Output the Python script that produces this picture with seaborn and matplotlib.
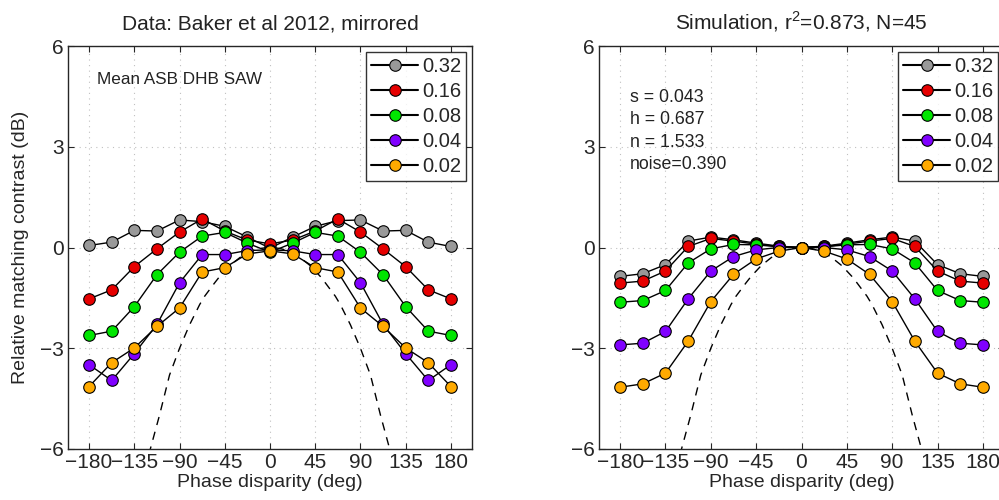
import numpy as np
import pandas as pd
import matplotlib
matplotlib.use('Agg')
import matplotlib.pyplot as plt
from matplotlib.lines import Line2D
import seaborn as sns

sns.set_style('ticks')
plt.rcParams['font.family'] = ['Liberation Sans', 'DejaVu Sans']
plt.rcParams['mathtext.fontset'] = 'custom'
plt.rcParams['mathtext.rm'] = 'Liberation Sans'

# phase disparities (deg)
phase = [-180, -157.5, -135, -112.5, -90, -67.5, -45, -22.5, 0,
         22.5, 45, 67.5, 90, 112.5, 135, 157.5, 180]

contrasts = ['0.32', '0.16', '0.08', '0.04', '0.02']
colors = ['#999999', '#e60000', '#00e600', '#8000ff', '#ffaa00']

# data (Baker et al 2012, mirrored)
data_032 = [0.06, 0.16, 0.51, 0.49, 0.82, 0.77, 0.63, 0.31, -0.02,
            0.31, 0.63, 0.80, 0.82, 0.49, 0.51, 0.16, 0.03]
data_016 = [-1.53, -1.26, -0.57, -0.04, 0.46, 0.85, 0.49, 0.22, 0.11,
            0.22, 0.49, 0.85, 0.46, -0.04, -0.57, -1.26, -1.53]
data_008 = [-2.62, -2.49, -1.76, -0.81, -0.14, 0.34, 0.45, 0.13, -0.14,
            0.13, 0.45, 0.34, -0.14, -0.81, -1.76, -2.49, -2.62]
data_004 = [-3.49, -3.96, -3.16, -2.29, -1.05, -0.21, -0.21, -0.09, -0.07,
            -0.10, -0.21, -0.21, -1.05, -2.29, -3.16, -3.96, -3.49]
data_002 = [-4.14, -3.43, -2.99, -2.35, -1.80, -0.73, -0.60, -0.19, -0.10,
            -0.19, -0.60, -0.73, -1.80, -2.35, -2.99, -3.43, -4.14]

# simulation
sim_032 = [-0.86, -0.78, -0.51, 0.19, 0.31, 0.23, 0.13, 0.04, 0.0,
           0.04, 0.13, 0.23, 0.31, 0.19, -0.51, -0.78, -0.86]
sim_016 = [-1.06, -1.00, -0.70, 0.03, 0.27, 0.19, 0.10, 0.03, 0.0,
           0.03, 0.10, 0.19, 0.27, 0.03, -0.70, -1.00, -1.06]
sim_008 = [-1.63, -1.58, -1.28, -0.46, -0.04, 0.09, 0.08, 0.02, 0.0,
           0.02, 0.08, 0.09, -0.04, -0.46, -1.28, -1.58, -1.63]
sim_004 = [-2.90, -2.85, -2.50, -1.53, -0.70, -0.27, -0.07, 0.0, 0.0,
           0.0, -0.07, -0.27, -0.70, -1.53, -2.50, -2.85, -2.90]
sim_002 = [-4.16, -4.06, -3.74, -2.79, -1.61, -0.80, -0.34, -0.11, 0.0,
           -0.11, -0.34, -0.80, -1.61, -2.79, -3.74, -4.06, -4.16]

# dashed reference curve
ref_x = [-130, -125, -120, -115, -110, -105, -100, -95, -90, -85, -80, -75, -70,
         -65, -60, -55, -50, -45, -40, -35, -30, -25, -20, -15, -10, -5, 0,
         5, 10, 15, 20, 25, 30, 35, 40, 45, 50, 55, 60, 65, 70,
         75, 80, 85, 90, 95, 100, 105, 110, 115, 120, 125, 130]
ref_y = [-7.5, -6.8, -6.1, -5.55, -5.0, -4.4, -3.8, -3.4, -3.0, -2.65, -2.3, -2.0, -1.7,
         -1.45, -1.25, -1.05, -0.86, -0.7, -0.54, -0.42, -0.3, -0.2, -0.13, -0.07, -0.03, -0.01, 0.0,
         -0.01, -0.03, -0.07, -0.13, -0.2, -0.3, -0.42, -0.54, -0.7, -0.86, -1.05, -1.25, -1.45, -1.7,
         -2.0, -2.3, -2.65, -3.0, -3.4, -3.8, -4.4, -5.0, -5.55, -6.1, -6.8, -7.5]

data_sets = [data_032, data_016, data_008, data_004, data_002]
sim_sets = [sim_032, sim_016, sim_008, sim_004, sim_002]

fig = plt.figure(figsize=(9.99, 5.0), dpi=100)
ax1 = fig.add_axes([68 / 999, 1 - 449 / 500, 404 / 999, 403 / 500])
ax2 = fig.add_axes([599 / 999, 1 - 449 / 500, 405 / 999, 403 / 500])


def draw_panel(ax, sets, title):
    ax.plot(ref_x, ref_y, color='black', linestyle=(0, (6, 5)), linewidth=1.0, zorder=1)
    for vals, c in zip(sets, colors):
        df = pd.DataFrame({'phase': phase, 'val': vals})
        sns.lineplot(data=df, x='phase', y='val', ax=ax, color='black', linewidth=1.0,
                     marker='o', markersize=8.3, markerfacecolor=c,
                     markeredgecolor='black', markeredgewidth=0.8, zorder=3)
    ax.set_xlim(-201, 201)
    ax.set_ylim(-6, 6)
    ax.set_xticks([-180, -135, -90, -45, 0, 45, 90, 135, 180])
    ax.set_xticklabels(['\u2212180', '\u2212135', '\u221290', '\u221245', '0',
                        '45', '90', '135', '180'])
    ax.set_yticks([-6, -3, 0, 3, 6])
    ax.set_yticklabels(['\u22126', '\u22123', '0', '3', '6'])
    ax.grid(True, linestyle=(0, (1, 4)), color='#c0c0c0', linewidth=0.8)
    ax.tick_params(direction='in', top=True, right=True, length=4, width=0.8,
                   labelsize=15, pad=3)
    for s in ax.spines.values():
        s.set_linewidth(1.0)
        s.set_visible(True)
    ax.set_xlabel('Phase disparity (deg)', fontsize=14, labelpad=1)
    ax.set_ylabel('')
    ax.set_title(title, fontsize=15, pad=12, color='#222222')
    handles = [Line2D([0], [0], color='black', linewidth=1.5, marker='o', markersize=8.3,
                      markerfacecolor=c, markeredgecolor='black', markeredgewidth=0.8)
               for c in colors]
    leg = ax.legend(handles, contrasts, loc='upper right', fontsize=14.5, frameon=True,
                    fancybox=False, edgecolor='black', handlelength=2.3,
                    handletextpad=0.2, labelspacing=0.3, borderpad=0.25,
                    borderaxespad=0.3)
    leg.get_frame().set_linewidth(1.0)


draw_panel(ax1, data_sets, 'Data: Baker et al 2012, mirrored')
draw_panel(ax2, sim_sets, 'Simulation, r$^2$=0.873, N=45')

ax1.set_ylabel('Relative matching contrast (dB)', fontsize=14, labelpad=8)
ax1.text(97 / 999, 1 - 80 / 500, 'Mean ASB DHB SAW', transform=fig.transFigure,
         fontsize=12.3, va='center', ha='left', color='#222222')
ax2.text(630 / 999, 1 - 131 / 500, 's = 0.043\nh = 0.687\nn = 1.533\nnoise=0.390',
         transform=fig.transFigure, fontsize=12.8, va='center', ha='left',
         linespacing=1.4, color='#222222')

plt.savefig('out.png', dpi=100)
plt.close()
